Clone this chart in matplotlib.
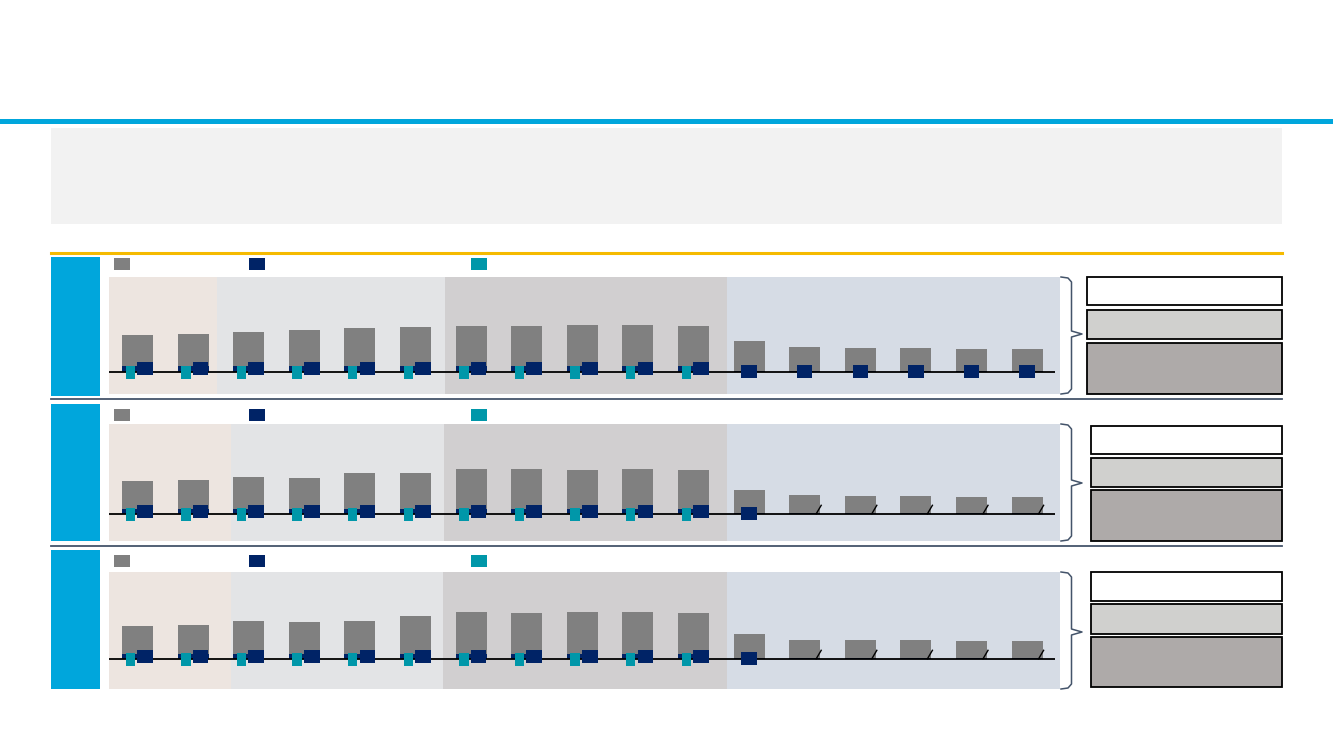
import matplotlib
matplotlib.use("Agg")
import matplotlib.pyplot as plt
from matplotlib.patches import Rectangle
from matplotlib.lines import Line2D

# ---------------- data ----------------
categories = ["C01", "C02", "C03", "C04", "C05", "C06", "C07", "C08", "C09",
              "C10", "C11", "C12", "C13", "C14", "C15", "C16", "C17"]

gray_p1 = [37.3, 38.3, 40.6, 42.3, 44.6, 45.3, 46.4, 46.6, 47.0, 47.6, 46.6,
           31.3, 24.9, 24.5, 23.9, 23.5, 23.5]
gray_p2 = [33.3, 34.0, 37.3, 36.7, 41.3, 41.3, 45.0, 45.7, 44.7, 45.3, 44.0,
           24.5, 19.0, 18.0, 18.0, 17.7, 17.7]
gray_p3 = [33.7, 34.0, 38.3, 37.3, 38.7, 43.3, 47.0, 46.7, 47.0, 47.7, 46.3,
           25.0, 19.7, 19.0, 19.0, 18.7, 18.7]

# navy strip at the foot of each grey bar
navy_bar_p1 = [6.0, 6.0, 6.0, 6.0, 6.0, 6.0, 6.0, 6.0, 6.0, 6.0, 6.0,
               1.0, 1.0, 1.0, 1.0, 1.0, 1.0]
navy_bar_p2 = [5.0, 5.0, 5.0, 5.0, 5.0, 5.0, 5.0, 5.0, 5.0, 5.0, 5.0,
               1.0, 1.0, 1.0, 1.0, 1.0, 1.0]
navy_bar_p3 = [5.0, 5.0, 5.0, 5.0, 5.0, 5.0, 5.0, 5.0, 5.0, 5.0, 5.0,
               1.0, 1.0, 1.0, 1.0, 1.0, 1.0]

# navy square markers (centre value), None = no marker
navy_p1 = [3.5, 3.5, 3.5, 3.5, 3.5, 3.5, 3.5, 3.5, 3.5, 3.5, 3.5,
           0.7, 0.7, 0.7, 0.7, 0.7, 0.7]
navy_p2 = [3.0, 3.0, 3.0, 3.0, 3.0, 3.0, 3.0, 3.0, 3.0, 3.0, 3.0,
           1.0, None, None, None, None, None]
navy_p3 = [3.0, 3.0, 3.0, 3.0, 3.0, 3.0, 3.0, 3.0, 3.0, 3.0, 3.0,
           0.5, None, None, None, None, None]

# teal square markers (centre value)
teal_p1 = [0.0, 0.0, 0.0, 0.0, 0.0, 0.0, 0.0, 0.0, 0.0, 0.0, 0.0,
           None, None, None, None, None, None]
teal_p2 = [0.0, 0.0, 0.0, 0.0, 0.0, 0.0, 0.0, 0.0, 0.0, 0.0, 0.0,
           None, None, None, None, None, None]
teal_p3 = [0.0, 0.0, 0.0, 0.0, 0.0, 0.0, 0.0, 0.0, 0.0, 0.0, 0.0,
           None, None, None, None, None, None]

# break marks ("/") at the foot of the bar, True = drawn
break_p1 = [False] * 17
break_p2 = [False] * 12 + [True] * 5
break_p3 = [False] * 12 + [True] * 5

# ---------------- style ----------------
W, H = 1333, 750
C_BLUE = "#00A6DC"
C_ORANGE = "#F5BA00"
C_LINE = "#44546A"
C_GRAY = "#808080"
C_NAVY = "#002366"
C_TEAL = "#0097A9"
BANDS = ["#EDE5E0", "#E3E4E6", "#D1CFD0", "#D6DCE5"]

fig = plt.figure(figsize=(W / 100, H / 100), dpi=100)
fig.patch.set_facecolor("white")


def fx(x):
    return x / W


def fy(y):
    return 1 - y / H


def frect(x0, y0, x1, y1, **kw):
    fig.patches.append(Rectangle((fx(x0), fy(y1)), fx(x1) - fx(x0), fy(y0) - fy(y1),
                                 transform=fig.transFigure, **kw))


def fline(xs, ys, **kw):
    fig.lines.append(Line2D([fx(x) for x in xs], [fy(y) for y in ys],
                            transform=fig.transFigure, **kw))


# header
frect(0, 119, W, 123.5, facecolor=C_BLUE, edgecolor="none")
frect(51, 128, 1282, 224, facecolor="#F2F2F2", edgecolor="none")
fline([51, 1282], [253, 253], color=C_ORANGE, lw=2.2)
fline([51, 1282], [399, 399], color=C_LINE, lw=1.3)
fline([51, 1282], [546, 546], color=C_LINE, lw=1.3)

C0 = 137.5     # px centre of the first category
STEP = 55.6    # px between categories

panels = [
    dict(top=277, bot=394, base=372.3, side=(257, 396), leg=258,
         bands=[109, 216.7, 445, 727, 1060], boxx=1087,
         boxes=[(277, 305), (310, 339), (343, 394)], tip=334,
         gray=gray_p1, nbar=navy_bar_p1, navy=navy_p1, teal=teal_p1, brk=break_p1),
    dict(top=424, bot=541, base=514.3, side=(404, 541), leg=408.5,
         bands=[109, 231, 444, 727, 1060], boxx=1091,
         boxes=[(426, 454), (458, 487), (490, 541)], tip=483,
         gray=gray_p2, nbar=navy_bar_p2, navy=navy_p2, teal=teal_p2, brk=break_p2),
    dict(top=572, bot=689, base=659.3, side=(550, 689), leg=555,
         bands=[109, 231, 443, 727, 1060], boxx=1091,
         boxes=[(572, 601), (604, 634), (637, 687)], tip=632,
         gray=gray_p3, nbar=navy_bar_p3, navy=navy_p3, teal=teal_p3, brk=break_p3),
]


def px2d(x):
    return (x - C0) / STEP


for p in panels:
    # left blue tab
    frect(51, p["side"][0], 100, p["side"][1], facecolor=C_BLUE, edgecolor="none")
    # legend keys
    ly = p["leg"]
    frect(114, ly, 130, ly + 12, facecolor=C_GRAY, edgecolor="none")
    frect(249, ly, 265, ly + 12, facecolor=C_NAVY, edgecolor="none")
    frect(471, ly, 487, ly + 12, facecolor=C_TEAL, edgecolor="none")

    x0, x1 = p["bands"][0], p["bands"][-1]
    ax = fig.add_axes([fx(x0), fy(p["bot"]), fx(x1) - fx(x0), fy(p["top"]) - fy(p["bot"])])
    ax.set_xlim(px2d(x0), px2d(x1))
    ax.set_ylim(-(p["bot"] - p["base"]), p["base"] - p["top"])
    ax.axis("off")
    for i in range(4):
        ax.axvspan(px2d(p["bands"][i]), px2d(p["bands"][i + 1]),
                   color=BANDS[i], lw=0, zorder=0)

    xs = list(range(len(categories)))
    ax.bar(xs, p["gray"], width=0.557, color=C_GRAY, zorder=2)
    ax.bar(xs, p["nbar"], width=0.557, color=C_NAVY, zorder=3)
    ax.hlines(0, px2d(x0), px2d(1054.5), color="black", lw=1.3, zorder=4)

    for i, x in enumerate(xs):
        v = p["navy"][i]
        if v is not None:
            off = 0.135 if p["teal"][i] is not None else 0.0
            ax.bar(x + off, 13.3, bottom=v - 6.65, width=0.28, color=C_NAVY, zorder=5)
        t = p["teal"][i]
        if t is not None:
            ax.bar(x - 0.13, 13.3, bottom=t - 6.65, width=0.167, color=C_TEAL, zorder=6)
        if p["brk"][i]:
            ax.plot([x + 0.207, x + 0.297], [0.5, 9.0], color="black", lw=1.0, zorder=6)

    # brace
    t, b, m = p["top"], p["bot"], p["tip"]
    fline([1061, 1068, 1071.5, 1071.5, 1082, 1071.5, 1071.5, 1068, 1061],
          [t, t + 1, t + 5, m - 3, m, m + 3, b - 5, b - 1, b],
          color=C_LINE, lw=1.1)

    # right boxes
    fills = ["white", "#D0D0CE", "#AEAAA9"]
    for (y0, y1), fc in zip(p["boxes"], fills):
        frect(p["boxx"], y0, 1282, y1, facecolor=fc, edgecolor="black", lw=1.3)

fig.savefig("out.png", dpi=100)
